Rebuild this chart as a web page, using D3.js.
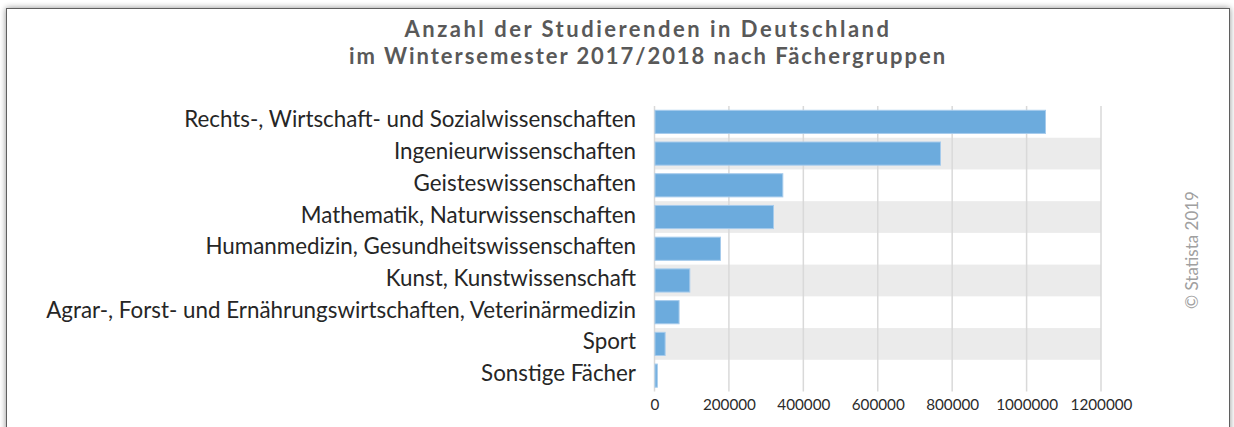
<!DOCTYPE html>
<html>
<head>
<meta charset="utf-8">
<script src="https://cdn.jsdelivr.net/npm/d3@7"></script>
<style>
  body { margin: 0; background: #fff; }
  text { font-family: Lato, "Open Sans", sans-serif; }
</style>
</head>
<body>
<svg id="chart"></svg>
<script>
var categories = [
  "Rechts-, Wirtschaft- und Sozialwissenschaften",
  "Ingenieurwissenschaften",
  "Geisteswissenschaften",
  "Mathematik, Naturwissenschaften",
  "Humanmedizin, Gesundheitswissenschaften",
  "Kunst, Kunstwissenschaft",
  "Agrar-, Forst- und Ernährungswirtschaften, Veterinärmedizin",
  "Sport",
  "Sonstige Fächer"
];
var students = [1049500, 767300, 343500, 318500, 176000, 93500, 64700, 27200, 6200];
var xTicks = [0, 200000, 400000, 600000, 800000, 1000000, 1200000];
var titleLines = [
  "Anzahl der Studierenden in Deutschland",
  "im Wintersemester 2017/2018 nach Fächergruppen"
];
var source = "© Statista 2019";

var W = 1234, H = 427;
var svg = d3.select("#chart").attr("width", W).attr("height", H);

// frame with soft shadow
var defs = svg.append("defs");
var f = defs.append("filter").attr("id", "shadow").attr("x", "-5%").attr("y", "-5%").attr("width", "110%").attr("height", "110%");
f.append("feGaussianBlur").attr("in", "SourceAlpha").attr("stdDeviation", 3);
f.append("feComponentTransfer").append("feFuncA").attr("type", "linear").attr("slope", 0.45);
var fm = f.append("feMerge");
fm.append("feMergeNode");
fm.append("feMergeNode").attr("in", "SourceGraphic");

svg.append("rect")
  .attr("x", 6.5).attr("y", 8.5)
  .attr("width", 1223).attr("height", H + 20)
  .attr("fill", "#fff")
  .attr("stroke", "#5e5e5e")
  .attr("filter", "url(#shadow)");

var x = d3.scaleLinear().domain([0, 1200000]).range([654.5, 1101]);
var rows = d3.scaleBand().domain(categories).range([106, 391.5]);
var y = d3.scaleBand().domain(categories).range([106, 391.5]).paddingInner(0.27).paddingOuter(0.135);

// alternating bands
svg.append("g").selectAll("rect")
  .data(categories.filter(function(d, i) { return i % 2 == 1; }))
  .enter().append("rect")
  .attr("x", x(0)).attr("width", x(1200000) - x(0))
  .attr("y", function(d) { return rows(d); })
  .attr("height", rows.bandwidth())
  .attr("fill", "#ebebeb");

// grid
svg.append("g").selectAll("line")
  .data(xTicks)
  .enter().append("line")
  .attr("x1", function(d) { return x(d); }).attr("x2", function(d) { return x(d); })
  .attr("y1", 106).attr("y2", 391.5)
  .attr("stroke", "#d9d9d9").attr("stroke-width", 1.5);

// bars
svg.append("g").selectAll("rect")
  .data(students)
  .enter().append("rect")
  .attr("x", x(0) + 0.5)
  .attr("y", function(d, i) { return y(categories[i]); })
  .attr("width", function(d) { return x(d) - x(0); })
  .attr("height", y.bandwidth())
  .attr("fill", "#6cabdd")
  .attr("stroke", "#a6cbec").attr("stroke-width", 1);

// x axis labels
var xAxis = svg.append("g")
  .attr("transform", "translate(0,398)")
  .call(d3.axisBottom(x).tickValues(xTicks).tickFormat(d3.format("d")).tickSize(0).tickPadding(0));
xAxis.select(".domain").remove();
xAxis.selectAll("text")
  .attr("dy", 0).attr("y", 12)
  .attr("fill", "#2b2b2b")
  .style("font-family", "Lato, 'Open Sans', sans-serif")
  .attr("font-size", 17);
var tw = xAxis.select(".tick:last-of-type text").node().getComputedTextLength();
xAxis.selectAll("text").attr("font-size", 17 * 62 / tw);

// category labels
var cat = svg.append("g").selectAll("text")
  .data(categories)
  .enter().append("text")
  .attr("x", 636)
  .attr("y", function(d) { return rows(d) + rows.bandwidth() / 2 + 5.5; })
  .attr("text-anchor", "end")
  .attr("fill", "#262626")
  .attr("font-size", 19)
  .text(function(d) { return d; });
var longest = d3.max(cat.nodes(), function(n) { return n.getComputedTextLength(); });
cat.attr("font-size", 19 * 590 / longest);

// title
var titleWidths = [487, 598];
var title = svg.append("g").selectAll("text")
  .data(titleLines)
  .enter().append("text")
  .attr("x", 648)
  .attr("y", function(d, i) { return 37 + i * 27; })
  .attr("text-anchor", "middle")
  .attr("font-weight", "bold")
  .attr("fill", "#595959")
  .attr("font-size", 22)
  .text(function(d) { return d; });
title.each(function(d, i) {
  var w = this.getComputedTextLength();
  var ls = (titleWidths[i] - w) / d.length;
  if (ls < 0) d3.select(this).attr("font-size", 22 * titleWidths[i] / w);
  else d3.select(this).attr("letter-spacing", ls);
});

// source
svg.append("text")
  .attr("transform", "translate(1198,250) rotate(-90)")
  .attr("text-anchor", "middle")
  .attr("fill", "#a0a0a0")
  .attr("font-size", 17)
  .text(source);
</script>
</body>
</html>
